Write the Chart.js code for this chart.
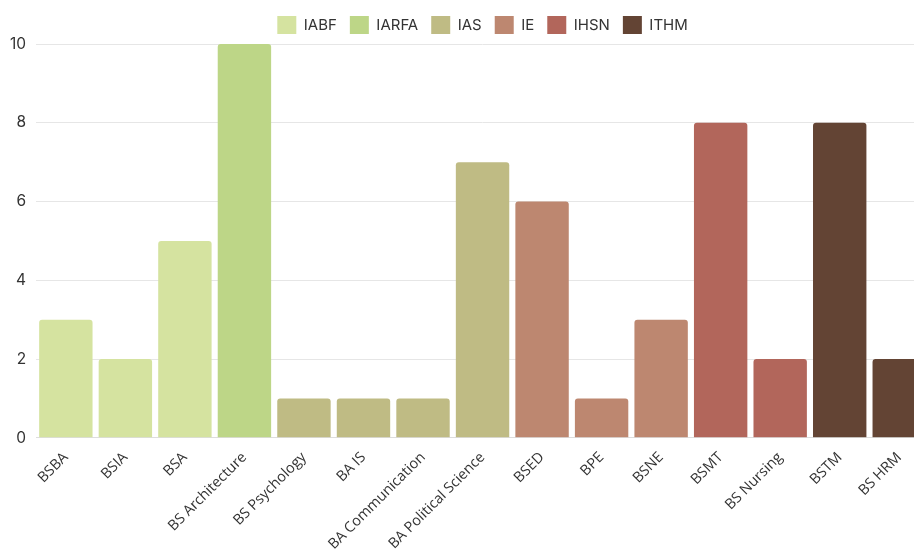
<!DOCTYPE html>
<html>
<head>
<meta charset="utf-8">
<script src="https://cdn.jsdelivr.net/npm/chart.js@4"></script>
<style>
  html, body { margin: 0; padding: 0; background: #fff; overflow: hidden; }
  #wrap { width: 914px; height: 556px; overflow: hidden; }
</style>
</head>
<body>
<div id="wrap"><canvas id="chart" width="929" height="556"></canvas></div>
<script>
// -------- Data ----------
const programs = ["BSBA", "BSIA", "BSA", "BS Architecture", "BS Psychology", "BA IS",
  "BA Communication", "BA Political Science", "BSED", "BPE", "BSNE", "BSMT",
  "BS Nursing", "BSTM", "BS HRM"];

const institutes = ["IABF", "IARFA", "IAS", "IE", "IHSN", "ITHM"];
const instColors = ["#d5e3a0", "#bdd687", "#bfbb84", "#bd8770", "#b2665b", "#634434"];

// one value per program, grouped by institute
const IABF  = [3, 2, 5, null, null, null, null, null, null, null, null, null, null, null, null];
const IARFA = [null, null, null, 10, null, null, null, null, null, null, null, null, null, null, null];
const IAS   = [null, null, null, null, 1, 1, 1, 7, null, null, null, null, null, null, null];
const IE    = [null, null, null, null, null, null, null, null, 6, 1, 3, null, null, null, null];
const IHSN  = [null, null, null, null, null, null, null, null, null, null, null, 8, 2, null, null];
const ITHM  = [null, null, null, null, null, null, null, null, null, null, null, null, null, 8, 2];

const yTicks = [0, 2, 4, 6, 8, 10];

const series = [IABF, IARFA, IAS, IE, IHSN, ITHM];

const datasets = institutes.map((name, i) => ({
  label: name,
  data: series[i],
  backgroundColor: instColors[i],
  borderRadius: 3,
  borderSkipped: "bottom",
  categoryPercentage: 0.897,
  barPercentage: 1.0
}));

new Chart(document.getElementById("chart"), {
  type: "bar",
  data: { labels: programs, datasets },
  options: {
    responsive: false,
    animation: false,
    layout: { padding: { left: 0, right: 0, top: 3, bottom: 0 } },
    plugins: {
      legend: {
        position: "top",
        fullSize: false,
        labels: {
          boxWidth: 19,
          boxHeight: 18,
          padding: 13,
          color: "#333",
          font: { family: "Inter", size: 15 }
        }
      },
      tooltip: { enabled: false }
    },
    scales: {
      x: {
        stacked: true,
        grid: { display: false },
        border: { color: "#ddd" },
        ticks: {
          color: "#333",
          maxRotation: 45,
          minRotation: 45,
          font: { family: "Open Sans", size: 14.5 }
        }
      },
      y: {
        stacked: true,
        min: 0,
        max: 10,
        afterBuildTicks: (axis) => { axis.ticks = yTicks.map(v => ({ value: v })); },
        grid: { color: "#e6e6e6", drawTicks: false },
        border: { display: false },
        ticks: {
          color: "#333",
          padding: 10,
          font: { family: "Inter", size: 15.5 }
        }
      }
    }
  }
});
</script>
</body>
</html>
